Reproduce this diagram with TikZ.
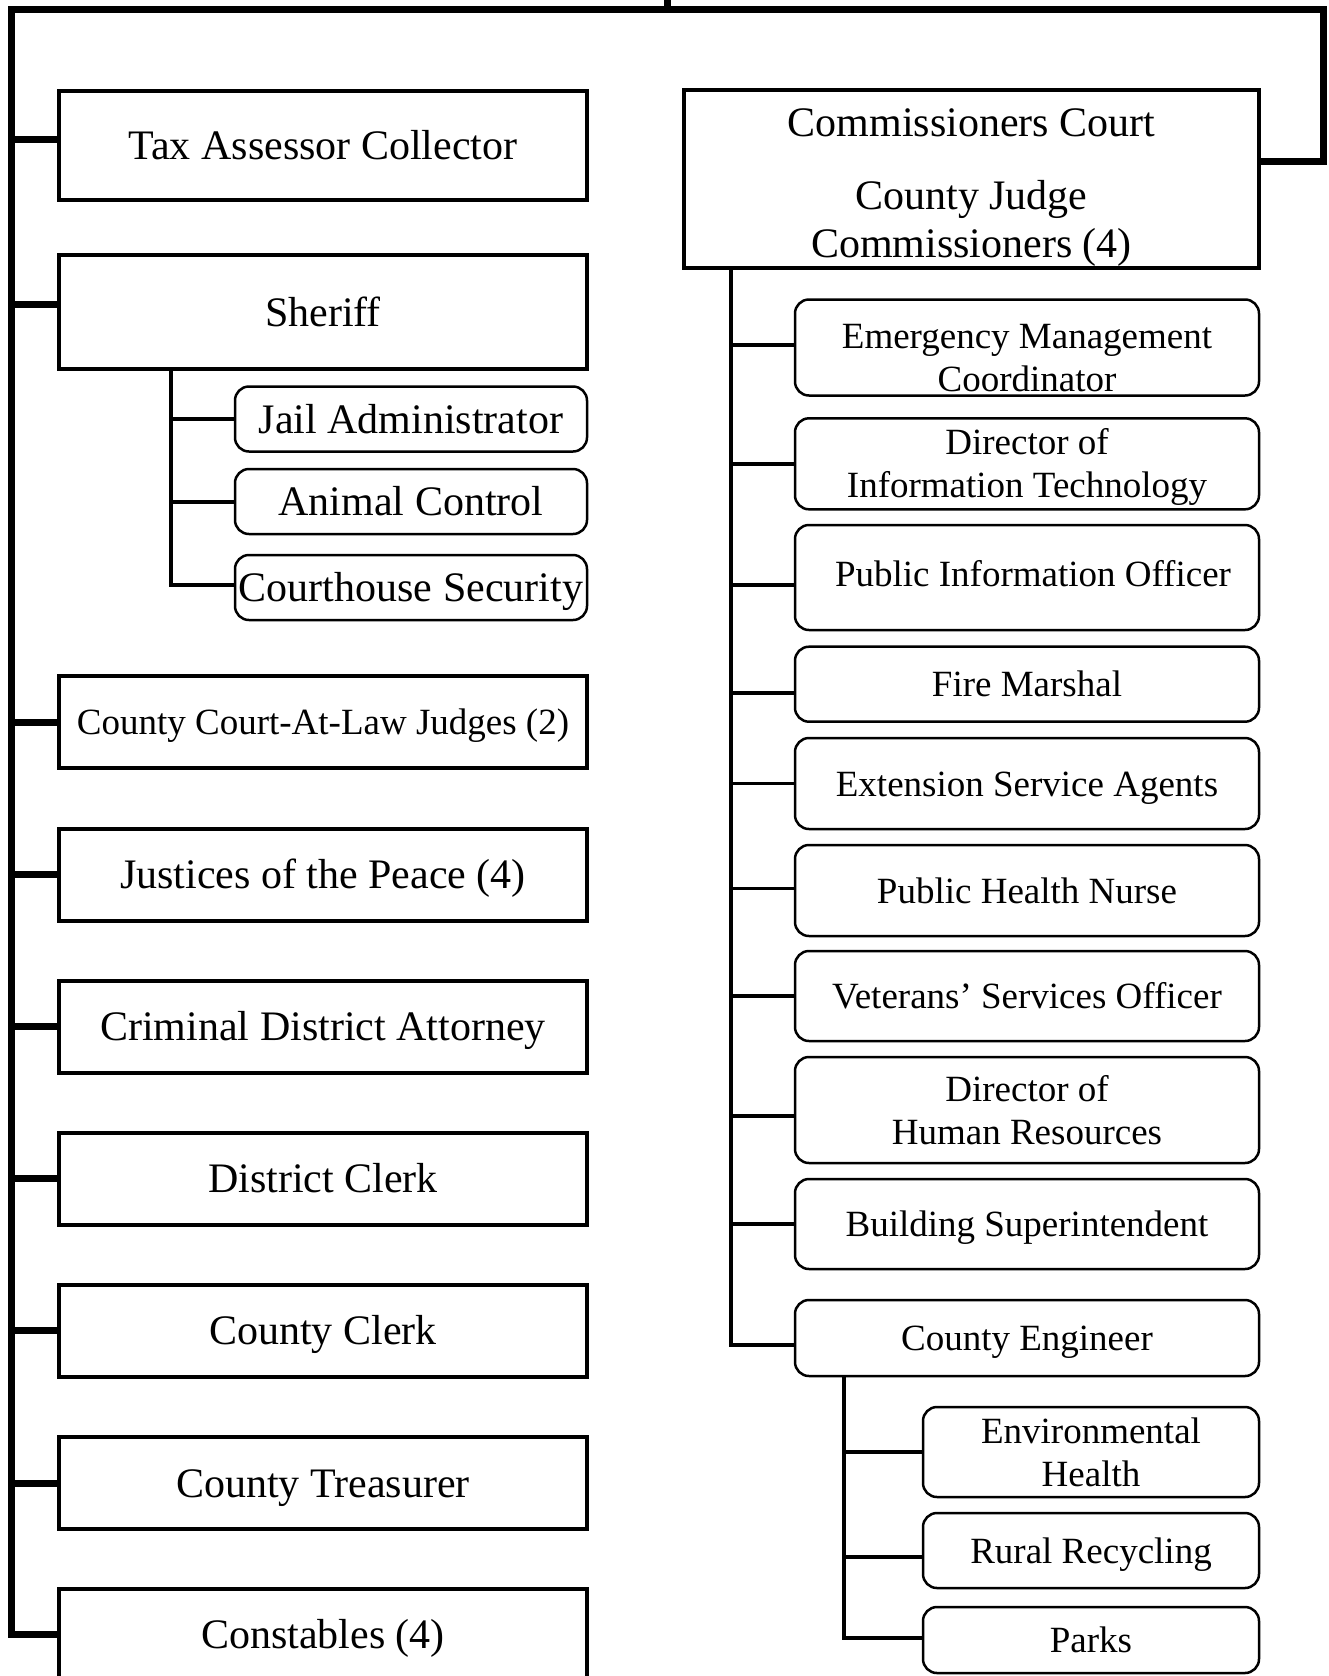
\documentclass[tikz,border=0pt]{standalone}
\usepackage{fontspec}
\setmainfont{Liberation Serif}
\usetikzlibrary{calc}
\begin{document}
\begin{tikzpicture}[x=1pt,y=-1pt,
  one42/.style={text height=37.4pt, text depth=9.1pt},
  one37/.style={text height=33pt, text depth=8pt},
  sqbox/.style={draw, line width=4pt, inner sep=0pt, outer sep=0pt, align=center,
    font=\fontsize{42}{48}\selectfont},
  lbox/.style={sqbox, one42, minimum width=528pt, minimum height=92pt},
  rbox/.style={draw, line width=2.5pt, rounded corners=14pt, inner sep=0pt, outer sep=0pt,
    align=center, font=\fontsize{37}{43}\selectfont},
  rrbox/.style={rbox, minimum width=464pt},
  sbox/.style={rbox, one42, minimum width=352pt, minimum height=65pt, font=\fontsize{42}{48}\selectfont},
  ebox/.style={rbox, minimum width=336pt},
  trunk/.style={line width=7pt},
  mid/.style={line width=4pt},
  thin/.style={line width=3.5pt}]
\useasboundingbox (0,0) rectangle (1328,1676);

% ---------- left column ----------
\node[sqbox, one42, minimum width=528pt, minimum height=109pt] (tax) at (323,145.5) {Tax Assessor Collector};
\node[sqbox, one42, minimum width=528pt, minimum height=114pt] (sheriff) at (323,312) {Sheriff};
\node[sbox] (jail) at (411,419) {Jail Administrator};
\node[sbox] (animal) at (411,501.5) {Animal Control};
\node[sbox] (court) at (411,587.5) {Courthouse Security};
\node[lbox, one37, font=\fontsize{37}{43}\selectfont] (ccal) at (323,722) {County Court-At-Law Judges (2)};
\node[lbox] (jp) at (323,874.5) {Justices of the Peace (4)};
\node[lbox] (cda) at (323,1026.5) {Criminal District Attorney};
\node[lbox] (dc) at (323,1178.5) {District Clerk};
\node[lbox] (cc) at (323,1330.5) {County Clerk};
\node[lbox] (ct) at (323,1483) {County Treasurer};
\node[lbox] (const) at (323,1634.5) {Constables (4)};

% ---------- right column ----------
\node[sqbox, minimum width=575pt, minimum height=178pt] (comm) at (971.5,179)
  {\rule{0pt}{44pt}Commissioners Court\\[25pt]County Judge\\Commissioners (4)};
\node[rrbox, minimum height=96pt] (emc) at (1027,347.5)
  {\rule{0pt}{46pt}Emergency Management\\Coordinator};
\node[rrbox, minimum height=91pt] (dit) at (1027,463.8)
  {\rule{0pt}{33pt}Director of\\Information Technology\rule[-8pt]{0pt}{8pt}};
\node[rrbox, minimum height=105pt] (pio) at (1027,577.5)
  {\hspace*{12pt}Public Information Officer\rule[-9pt]{0pt}{9pt}};
\node[rrbox, one37, minimum height=75pt] (fm) at (1027,684.2) {Fire Marshal};
\node[rrbox, one37, minimum height=91pt] (esa) at (1027,783.5) {Extension Service Agents};
\node[rrbox, one37, minimum height=91pt] (phn) at (1027,890.5) {Public Health Nurse};
\node[rrbox, one37, minimum height=90pt] (vso) at (1027,996) {Veterans’ Services Officer};
\node[rrbox, minimum height=106pt] (dhr) at (1027,1110) {Director of\\Human Resources};
\node[rrbox, one37, minimum height=90pt] (bs) at (1027,1224) {Building Superintendent};
\node[rrbox, one37, minimum height=76pt] (ce) at (1027,1338) {County Engineer};
\node[ebox, minimum height=90pt] (eh) at (1091,1452) {Environmental\\Health};
\node[ebox, one37, minimum height=75pt] (rr) at (1091,1550.5) {Rural Recycling};
\node[ebox, one37, minimum height=66pt] (parks) at (1091,1640) {Parks};

% ---------- connection points ----------
\coordinate (top) at (667,0);
\coordinate (tl) at (11,9);
\coordinate (tr) at (1323,9);
\coordinate (sv) at (171.4,0);
\coordinate (rv) at (731,0);
\coordinate (cv) at (843.6,0);
\coordinate (commc) at ([yshift=17.5pt]comm.east);
\coordinate (taxc) at ([yshift=6pt]tax.west);
\coordinate (sherc) at ([yshift=8pt]sheriff.west);
\coordinate (courtc) at ([yshift=2.5pt]court.west);
\coordinate (emcc) at ([yshift=2.5pt]emc.west);
\coordinate (pioc) at ([yshift=-7.5pt]pio.west);
\coordinate (fmc) at ([yshift=-9pt]fm.west);
\coordinate (phnc) at ([yshift=2pt]phn.west);
\coordinate (dhrc) at ([yshift=-6pt]dhr.west);
\coordinate (cec) at ([yshift=-7pt]ce.west);
\coordinate (rrc) at ([yshift=-6.5pt]rr.west);
\coordinate (parksc) at ([yshift=2pt]parks.west);

% ---------- main frame ----------
\draw[trunk] (const.west) -- (tl |- const.west) -- (tl) -- (tr) -- (tr |- commc) -- (commc);
\draw[trunk] (top) -- (top |- tl);
\foreach \n in {taxc, sherc, ccal.west, jp.west, cda.west, dc.west, cc.west, ct.west}
  \draw[trunk] (tl |- \n) -- (\n);

% ---------- sheriff ----------
\draw[mid] (sv |- sheriff.south) -- (sv |- courtc) -- (courtc);
\draw[mid] (sv |- jail.west) -- (jail.west);
\draw[mid] (sv |- animal.west) -- (animal.west);

% ---------- commissioners court ----------
\draw[mid] (rv |- comm.south) -- (rv |- cec) -- (cec);
\foreach \n in {emcc, dit.west, pioc, fmc, esa.west, phnc, vso.west, dhrc, bs.west}
  \draw[thin] (rv |- \n) -- (\n);

% ---------- county engineer ----------
\draw[mid] (cv |- ce.south) -- (cv |- parksc) -- (parksc);
\draw[thin] (cv |- eh.west) -- (eh.west);
\draw[thin] (cv |- rrc) -- (rrc);
\end{tikzpicture}
\end{document}
